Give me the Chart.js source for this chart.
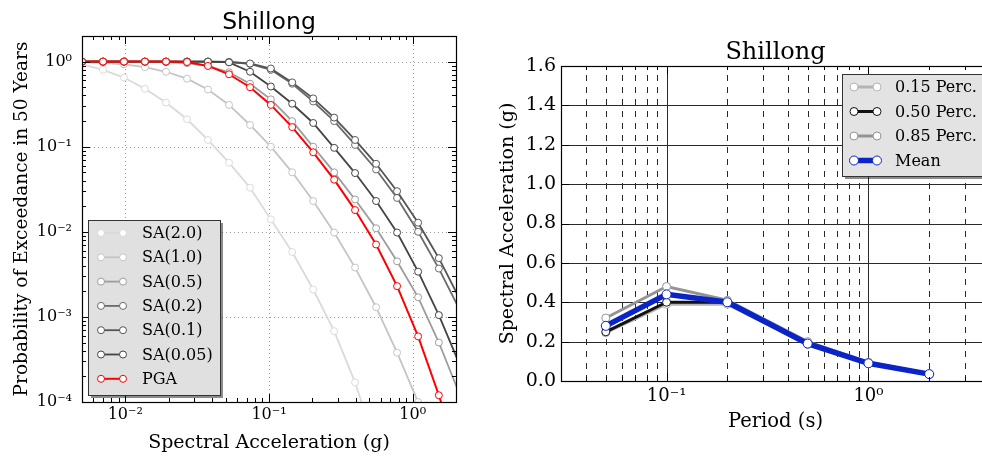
<!DOCTYPE html>
<html>
<head>
<meta charset="utf-8">
<script src="https://cdn.jsdelivr.net/npm/chart.js@4.4.1/dist/chart.umd.min.js"></script>
<style>
html, body { margin: 0; padding: 0; background: #fff; overflow: hidden; width: 982px; height: 456px; }
#hazard { position: absolute; left: 0; top: 0; }
#uhs { position: absolute; left: 480px; top: 0; }
</style>
</head>
<body>
<canvas id="hazard" width="470" height="456"></canvas>
<canvas id="uhs" width="520" height="456"></canvas>
<script>
// hazard curves (left)
const imls = [0.005, 0.007, 0.0098, 0.0137, 0.0192, 0.0269, 0.0376, 0.0527, 0.0738, 0.103, 0.145, 0.203, 0.284, 0.397, 0.556, 0.778, 1.09, 1.52, 2.13];
const poeSA20 = [0.93, 0.80, 0.65, 0.48, 0.33, 0.21, 0.12, 0.065, 0.033, 0.014, 0.0058, 0.0021, 0.00068, 0.00017, 0.00003, 0.000005, 0.0000006, 0.00000005, 0.000000003];
const poeSA10 = [0.99, 0.97, 0.93, 0.86, 0.76, 0.63, 0.47, 0.31, 0.18, 0.10, 0.050, 0.023, 0.0098, 0.0038, 0.0013, 0.00038, 0.0001, 0.00002, 0.000003];
const poeSA05 = [1, 1, 1, 1, 0.99, 0.96, 0.89, 0.75, 0.55, 0.36, 0.20, 0.10, 0.050, 0.024, 0.011, 0.0045, 0.0017, 0.0005, 0.00012];
const poeSA02 = [1, 1, 1, 1, 1, 1, 1, 0.99, 0.94, 0.80, 0.55, 0.34, 0.20, 0.105, 0.054, 0.025, 0.010, 0.0037, 0.0012];
const poeSA01 = [1, 1, 1, 1, 1, 1, 1, 0.99, 0.95, 0.83, 0.57, 0.37, 0.22, 0.12, 0.063, 0.030, 0.0128, 0.0049, 0.0016];
const poeSA005 = [1, 1, 1, 1, 1, 1, 1, 0.98, 0.76, 0.51, 0.32, 0.19, 0.097, 0.049, 0.023, 0.0098, 0.0034, 0.00105, 0.00027];
const poePGA = [1, 1, 1, 1, 1, 0.99, 0.89, 0.71, 0.50, 0.31, 0.17, 0.086, 0.041, 0.018, 0.0071, 0.0023, 0.00059, 0.00012, 0.00002];
const accTicks = [0.01, 0.1, 1];
const poeTicks = [0.0001, 0.001, 0.01, 0.1, 1];

// uniform hazard spectra (right)
const periods = [0.05, 0.1, 0.2, 0.5, 1.0, 2.0];
const sa15 = [0.245, 0.39, 0.39, 0.186, 0.088, 0.033];
const sa50 = [0.25, 0.40, 0.40, 0.19, 0.09, 0.034];
const sa85 = [0.32, 0.48, 0.41, 0.20, 0.095, 0.037];
const saMean = [0.28, 0.44, 0.40, 0.19, 0.09, 0.035];
const periodTicks = [0.1, 1];
const saTicks = [0, 0.2, 0.4, 0.6, 0.8, 1.0, 1.2, 1.4, 1.6];

const SERIF = 'DejaVu Serif';
const sup = { '-': '\u207B', '0': '\u2070', '1': '\u00B9', '2': '\u00B2', '3': '\u00B3', '4': '\u2074' };
function pow10Label(v) {
  const e = Math.round(Math.log10(v));
  return '10' + String(e).split('').map(c => sup[c]).join('');
}
// minor log positions between lo and hi
function minorLog(lo, hi) {
  const out = [];
  for (let d = Math.floor(Math.log10(lo)); d <= Math.ceil(Math.log10(hi)); d++) {
    for (let m = 2; m <= 9; m++) {
      const v = m * Math.pow(10, d);
      if (v >= lo && v <= hi) out.push(v);
    }
  }
  return out;
}

const mplAxes = {
  id: 'mplAxes',
  beforeDatasetsDraw(chart, args, o) {
    const { ctx, chartArea: a, scales } = chart;
    ctx.save();
    ctx.beginPath();
    ctx.rect(a.left, a.top, a.right - a.left, a.bottom - a.top);
    ctx.clip();
    for (const g of o.grid) {
      ctx.strokeStyle = g.color;
      ctx.lineWidth = g.width;
      ctx.setLineDash(g.dash);
      for (const v of g.values) {
        ctx.beginPath();
        if (g.axis === 'x') {
          const p = Math.round(scales.x.getPixelForValue(v)) + 0.5;
          ctx.moveTo(p, a.bottom);
          ctx.lineTo(p, a.top);
        } else {
          const p = Math.round(scales.y.getPixelForValue(v)) + 0.5;
          ctx.moveTo(a.left, p);
          ctx.lineTo(a.right, p);
        }
        ctx.stroke();
      }
    }
    ctx.restore();
  },
  afterDatasetsDraw(chart, args, o) {
    const { ctx, chartArea: a, scales } = chart;
    ctx.save();
    ctx.strokeStyle = '#000';
    ctx.lineWidth = 1;
    for (const t of o.ticks) {
      for (const v of t.values) {
        ctx.beginPath();
        if (t.axis === 'x') {
          const p = Math.round(scales.x.getPixelForValue(v)) + 0.5;
          if (p < a.left || p > a.right) continue;
          ctx.moveTo(p, a.bottom); ctx.lineTo(p, a.bottom - t.len);
          ctx.moveTo(p, a.top); ctx.lineTo(p, a.top + t.len);
        } else {
          const p = Math.round(scales.y.getPixelForValue(v)) + 0.5;
          if (p < a.top || p > a.bottom) continue;
          ctx.moveTo(a.left, p); ctx.lineTo(a.left + t.len, p);
          ctx.moveTo(a.right, p); ctx.lineTo(a.right - t.len, p);
        }
        ctx.stroke();
      }
    }
    ctx.lineWidth = 1.2;
    ctx.strokeRect(Math.round(a.left) + 0.5, Math.round(a.top) + 0.5, Math.round(a.right - a.left), Math.round(a.bottom - a.top));
    ctx.restore();
  }
};

// title centred over the plot area, like matplotlib
const mplTitle = {
  id: 'mplTitle',
  afterDraw(chart, args, o) {
    const { ctx, chartArea: a } = chart;
    ctx.save();
    ctx.font = o.font;
    ctx.fillStyle = '#000';
    ctx.textAlign = 'center';
    ctx.textBaseline = 'alphabetic';
    ctx.fillText(o.text, (a.left + a.right) / 2, o.baseline);
    ctx.restore();
  }
};

const mplLegend = {
  id: 'mplLegend',
  afterDraw(chart, args, o) {
    const { ctx } = chart;
    ctx.save();
    ctx.fillStyle = 'rgba(0,0,0,0.45)';
    ctx.fillRect(o.x + 3, o.y + 3, o.w, o.h);
    ctx.fillStyle = o.bg;
    ctx.fillRect(o.x, o.y, o.w, o.h);
    ctx.strokeStyle = '#333';
    ctx.lineWidth = 1;
    ctx.strokeRect(o.x + 0.5, o.y + 0.5, o.w, o.h);
    ctx.font = o.font;
    ctx.textBaseline = 'middle';
    chart.data.datasets.forEach((d, i) => {
      const cy = o.y + o.first + i * o.row;
      ctx.strokeStyle = d.borderColor;
      ctx.lineWidth = d.borderWidth;
      ctx.beginPath();
      ctx.moveTo(o.x + o.lx0, cy);
      ctx.lineTo(o.x + o.lx1, cy);
      ctx.stroke();
      for (const lx of [o.lx0, o.lx1]) {
        ctx.beginPath();
        ctx.arc(o.x + lx, cy, d.pointRadius, 0, Math.PI * 2);
        ctx.fillStyle = '#fff';
        ctx.fill();
        ctx.lineWidth = d.pointBorderWidth;
        ctx.strokeStyle = d.pointBorderColor;
        ctx.stroke();
      }
      ctx.fillStyle = '#000';
      ctx.fillText(d.label, o.x + o.tx, cy + 1);
    });
    ctx.restore();
  }
};

function series(label, xs, ys, color, width, radius, order) {
  return {
    label,
    data: xs.map((x, i) => ({ x, y: ys[i] })),
    borderColor: color,
    backgroundColor: color,
    borderWidth: width,
    pointRadius: radius,
    pointBackgroundColor: '#fff',
    pointBorderColor: color,
    pointBorderWidth: 1,
    order,
    tension: 0
  };
}

// left: hazard curves
new Chart(document.getElementById('hazard'), {
  type: 'line',
  data: {
    datasets: [
      series('SA(2.0)', imls, poeSA20, '#dadada', 1.8, 3.5, 6),
      series('SA(1.0)', imls, poeSA10, '#c4c4c4', 1.8, 3.5, 5),
      series('SA(0.5)', imls, poeSA05, '#9c9c9c', 1.8, 3.5, 4),
      series('SA(0.2)', imls, poeSA02, '#6a6a6a', 1.8, 3.5, 3),
      series('SA(0.1)', imls, poeSA01, '#555555', 1.8, 3.5, 2),
      series('SA(0.05)', imls, poeSA005, '#444444', 1.8, 3.5, 1),
      series('PGA', imls, poePGA, '#ff0000', 2, 3.5, 0)
    ]
  },
  options: {
    responsive: false,
    animation: false,
    events: [],
    layout: { padding: { left: 0, right: 14, top: 36, bottom: 0 } },
    plugins: {
      legend: { display: false },
      tooltip: { enabled: false },
      title: { display: false },
      mplTitle: { text: 'Shillong', font: '23.5px "DejaVu Sans"', baseline: 29 },
      mplAxes: {
        grid: [
          { axis: 'x', values: accTicks, color: '#9a9a9a', width: 1, dash: [1, 3] },
          { axis: 'y', values: poeTicks, color: '#9a9a9a', width: 1, dash: [1, 3] }
        ],
        ticks: [
          { axis: 'x', values: accTicks, len: 8 },
          { axis: 'x', values: minorLog(0.005, 2), len: 4 },
          { axis: 'y', values: poeTicks, len: 8 },
          { axis: 'y', values: minorLog(0.0001, 2), len: 4 }
        ]
      },
      mplLegend: {
        x: 88, y: 220, w: 132, h: 175, bg: '#e0e0e0',
        first: 13, row: 24.3, lx0: 13, lx1: 35, tx: 54,
        font: '16px "DejaVu Serif"'
      }
    },
    scales: {
      x: {
        type: 'logarithmic', min: 0.005, max: 2,
        afterBuildTicks: s => { s.ticks = accTicks.map(v => ({ value: v })); },
        afterFit: s => { s.height = 54; },
        grid: { display: false, drawTicks: false },
        border: { display: false },
        ticks: { callback: v => pow10Label(v), color: '#000', font: { family: SERIF, size: 16 }, padding: 3, maxRotation: 0, autoSkip: false },
        title: { display: true, text: 'Spectral Acceleration (g)', color: '#000', font: { family: SERIF, size: 19 }, padding: { top: 0, bottom: 1.5 } }
      },
      y: {
        type: 'logarithmic', min: 0.0001, max: 2,
        afterBuildTicks: s => { s.ticks = poeTicks.map(v => ({ value: v })); },
        afterFit: s => { s.width = 82; },
        grid: { display: false, drawTicks: false },
        border: { display: false },
        ticks: { callback: v => pow10Label(v), color: '#000', font: { family: SERIF, size: 16 }, padding: 10, autoSkip: false },
        title: { display: true, text: 'Probability of Exceedance in 50 Years', color: '#000', font: { family: SERIF, size: 18.5 }, padding: { top: 11, bottom: 0 } }
      }
    }
  },
  plugins: [mplAxes, mplTitle, mplLegend]
});

// right: uniform hazard spectra
const periodMinor = minorLog(0.03, 4);
new Chart(document.getElementById('uhs'), {
  type: 'line',
  data: {
    datasets: [
      series('0.15 Perc.', periods, sa15, '#b4b4b4', 3, 4, 3),
      series('0.50 Perc.', periods, sa50, '#111111', 3, 4, 2),
      series('0.85 Perc.', periods, sa85, '#949494', 3, 4, 1),
      series('Mean', periods, saMean, '#0a24c8', 5.5, 4.5, 0)
    ]
  },
  options: {
    responsive: false,
    animation: false,
    events: [],
    layout: { padding: { left: 0, right: 10, top: 66, bottom: 0 } },
    plugins: {
      legend: { display: false },
      tooltip: { enabled: false },
      title: { display: false },
      mplTitle: { text: 'Shillong', font: '24px "DejaVu Serif"', baseline: 59 },
      mplAxes: {
        grid: [
          { axis: 'y', values: saTicks, color: '#2a2a2a', width: 1, dash: [] },
          { axis: 'x', values: periodTicks, color: '#2a2a2a', width: 1, dash: [] },
          { axis: 'x', values: periodMinor, color: '#2a2a2a', width: 1, dash: [6, 6] }
        ],
        ticks: [
          { axis: 'x', values: periodTicks, len: 8 },
          { axis: 'x', values: periodMinor, len: 4 },
          { axis: 'y', values: saTicks, len: 8 }
        ]
      },
      mplLegend: {
        x: 362, y: 74, w: 170, h: 102, bg: '#e3e3e3',
        first: 13, row: 24.5, lx0: 12, lx1: 35, tx: 53,
        font: '16px "DejaVu Serif"'
      }
    },
    scales: {
      x: {
        type: 'logarithmic', min: 0.03, max: 4,
        afterBuildTicks: s => { s.ticks = periodTicks.map(v => ({ value: v })); },
        afterFit: s => { s.height = 75; },
        grid: { display: false, drawTicks: false },
        border: { display: false },
        ticks: { callback: v => pow10Label(v), color: '#000', font: { family: SERIF, size: 18 }, padding: 5, maxRotation: 0, autoSkip: false },
        title: { display: true, text: 'Period (s)', color: '#000', font: { family: SERIF, size: 19.5 }, padding: { top: 0, bottom: 22 } }
      },
      y: {
        type: 'linear', min: 0, max: 1.6,
        afterBuildTicks: s => { s.ticks = saTicks.map(v => ({ value: v })); },
        afterFit: s => { s.width = 81; },
        grid: { display: false, drawTicks: false },
        border: { display: false },
        ticks: { callback: v => v.toFixed(1), color: '#000', font: { family: SERIF, size: 19 }, padding: 5, autoSkip: false },
        title: { display: true, text: 'Spectral Acceleration (g)', color: '#000', font: { family: SERIF, size: 19 }, padding: { top: 17, bottom: 0 } }
      }
    }
  },
  plugins: [mplAxes, mplTitle, mplLegend]
});
</script>
</body>
</html>
